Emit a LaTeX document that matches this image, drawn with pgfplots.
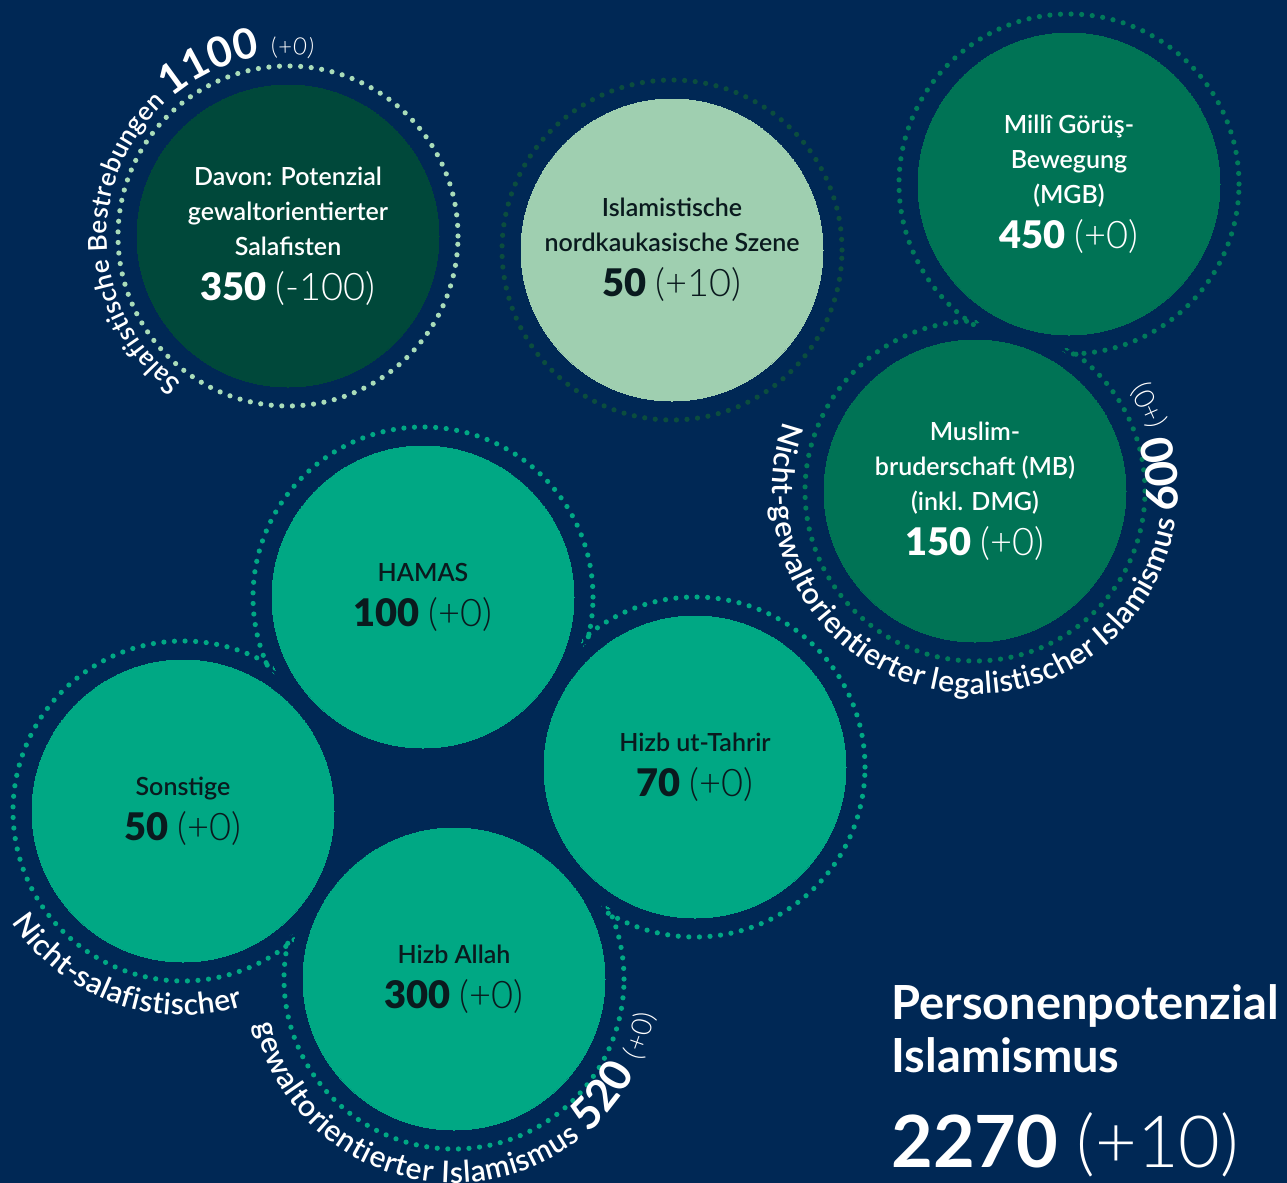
\documentclass[border=0pt]{standalone}
\usepackage{fontspec}
\setmainfont{Lato}
\newfontfamily\lightfont{Lato Light}
\newfontfamily\semifont{Lato Semibold}
\usepackage{pgfplots}
\pgfplotsset{compat=1.18}
\usetikzlibrary{decorations.text}

\definecolor{bgc}{HTML}{002855}
\definecolor{salaf}{HTML}{00483A}
\definecolor{light}{HTML}{9FCFB0}
\definecolor{legal}{HTML}{007355}
\definecolor{teal}{HTML}{00A884}
\definecolor{dotSal}{HTML}{A9DCB9}
\definecolor{dotNK}{HTML}{0B4D3E}
\definecolor{dotLeg}{HTML}{007A5A}
\definecolor{dotTeal}{HTML}{00A884}
\definecolor{ink}{HTML}{0A1A1E}

\newcommand\lab{\semifont\fontsize{12.5}{17.5}\selectfont}
\newcommand\num[2]{{\fontsize{19}{24}\selectfont\bfseries #1 {\mdseries\lightfont #2}}}
% curved captions
\newcommand\cf{\semifont\fontsize{15}{17}\selectfont}
\newcommand\cn{\normalfont\bfseries\fontsize{22}{24}\selectfont}
\newcommand\cs{\lightfont\fontsize{14}{16}\selectfont}
\newcommand\salF{\semifont\fontsize{13}{15}\selectfont}
\newcommand\salN{\normalfont\bfseries\fontsize{21}{23}\selectfont}
\newcommand\salS{\lightfont\fontsize{12}{14}\selectfont}

\tikzset{
  ring/.style={only marks, mark=o, mark size=85pt,
    mark options={draw=#1, line width=2.6pt, dash pattern=on 0pt off 5.3pt, line cap=round}},
  disk/.style 2 args={only marks, mark=*, mark size=#2,
    mark options={fill=#1, draw=#1, line width=0pt}},
}

\begin{document}
\begin{tikzpicture}
\clip (0,0) rectangle (643.5pt,591.5pt);
\fill[bgc] (0,0) rectangle (643.5pt,591.5pt);
\begin{axis}[
    width=643.5pt, height=591.5pt, scale only axis,
    xmin=0, xmax=1287, ymin=0, ymax=1183, y dir=reverse,
    hide axis, clip=false,
]
% dotted outlines
\addplot[ring=dotNK] coordinates {(672,250)};
\addplot[ring=dotSal] coordinates {(288,236)};
\addplot[ring=dotLeg] coordinates {(1069,184) (975,491)};
\addplot[disk={bgc}{82pt}] coordinates {(1069,184) (975,491)};
\addplot[ring=dotTeal] coordinates {(423,597) (183,811) (695,767) (454,979)};
\addplot[disk={bgc}{82pt}] coordinates {(423,597) (183,811) (695,767) (454,979)};
\addplot[disk={bgc}{61pt}] coordinates {(439,788)};

% circles
\addplot[disk={salaf}{75.5pt}] coordinates {(288,236)};
\addplot[disk={light}{75.5pt}] coordinates {(672,250)};
\addplot[disk={legal}{75.5pt}] coordinates {(1069,184) (975,491)};
\addplot[disk={teal}{75.5pt}] coordinates {(423,597) (183,811) (695,767) (454,979)};

\coordinate (cSal) at (axis cs:288,236);
\coordinate (cNK) at (axis cs:672,250);
\coordinate (cMGB) at (axis cs:1069,184);
\coordinate (cMB) at (axis cs:975,491);
\coordinate (cHam) at (axis cs:423,597);
\coordinate (cSon) at (axis cs:183,811);
\coordinate (cHT) at (axis cs:695,767);
\coordinate (cHA) at (axis cs:454,979);
\coordinate (t1) at (axis cs:891,1020);
\coordinate (t2) at (axis cs:891,1073);
\coordinate (t3) at (axis cs:891,1168);
\end{axis}

% labels
\node[align=center, text=white, font=\lab] at (cSal)
  {Davon: Potenzial\\gewaltorientierter\\Salafisten\\[5pt]\num{350}{(-100)}};
\node[align=center, text=ink, font=\lab] at (cNK)
  {Islamistische\\nordkaukasische Szene\\[5pt]\num{50}{(+10)}};
\node[align=center, text=white, font=\lab] at (cMGB)
  {Millî Görüş-\\Bewegung\\(MGB)\\[5pt]\num{450}{(+0)}};
\node[align=center, text=white, font=\lab] at (cMB)
  {Muslim-\\bruderschaft (MB)\\(inkl. DMG)\\[5pt]\num{150}{(+0)}};
\node[align=center, text=ink, font=\lab] at (cHam)
  {HAMAS\\[5pt]\num{100}{(+0)}};
\node[align=center, text=ink, font=\lab] at (cSon)
  {Sonstige\\[5pt]\num{50}{(+0)}};
\node[align=center, text=ink, font=\lab] at (cHT)
  {Hizb ut-Tahrir\\[5pt]\num{70}{(+0)}};
\node[align=center, text=ink, font=\lab] at (cHA)
  {Hizb Allah\\[5pt]\num{300}{(+0)}};

% total
\node[anchor=base west, text=white, font=\bfseries\fontsize{23.5}{25}\selectfont, inner sep=0pt]
  at (t1) {Personenpotenzial};
\node[anchor=base west, text=white, font=\bfseries\fontsize{23.5}{25}\selectfont, inner sep=0pt]
  at (t2) {Islamismus};
\node[anchor=base west, text=white, font=\fontsize{36}{37}\selectfont, inner sep=0pt]
  at (t3) {\textbf{2270} {\lightfont(+10)}};

% curved captions
\path[decorate, decoration={text along path, text color=white, text align=fit to path,
  text={|\salF|Salafistische Bestrebungen |\salN|1100 |\salS|(+0)}}]
  ([shift={(234:90.5pt)}]cSal) arc[start angle=234, end angle=82, radius=90.5pt];
\path[decorate, decoration={text along path, text color=white, text align=fit to path,
  text={|\cf|Nicht-gewaltorientierter legalistischer Islamismus |\cn|600 |\cs|(+0)}}]
  ([shift={(160:101.5pt)}]cMB) arc[start angle=160, end angle=393, radius=101.5pt];
\path[decorate, decoration={text along path, text color=white, text align=fit to path,
  text={|\cf|Nicht-salafistischer}}]
  ([shift={(213:102pt)}]cSon) arc[start angle=213, end angle=287, radius=102pt];
\path[decorate, decoration={text along path, text color=white, text align=fit to path,
  text={|\cf|gewaltorientierter Islamismus |\cn|520 |\cs|(+0)}}]
  ([shift={(193:102pt)}]cHA) arc[start angle=193, end angle=350, radius=102pt];
\end{tikzpicture}
\end{document}
